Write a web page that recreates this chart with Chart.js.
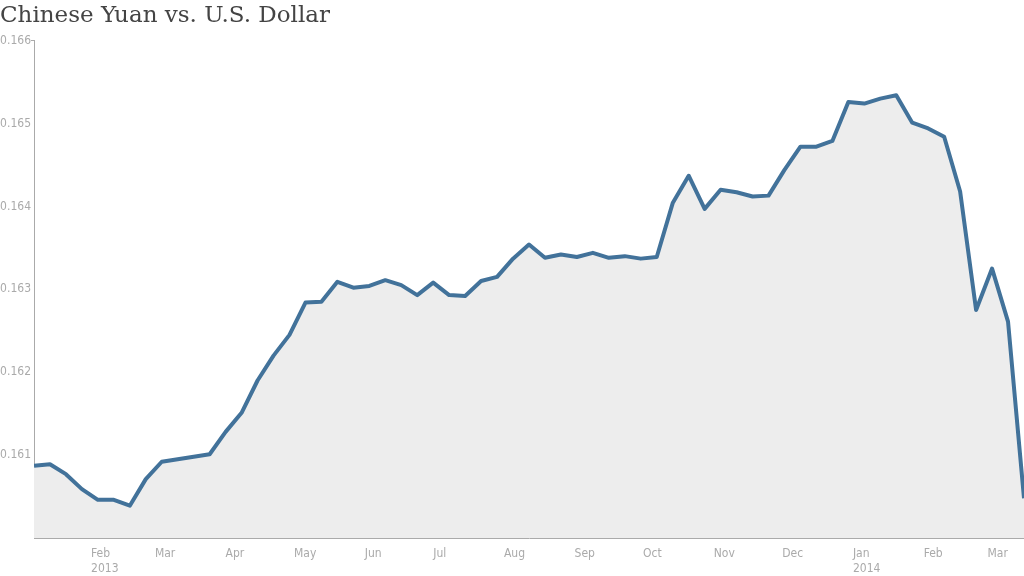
<!DOCTYPE html>
<html>
<head>
<meta charset="utf-8">
<script src="https://cdn.jsdelivr.net/npm/chart.js@4"></script>
<style>
  body { margin: 0; background: #fff; }
  #wrap { width: 1024px; height: 576px; }
</style>
</head>
<body>
<div id="wrap"><canvas id="yuanChart" width="1024" height="576"></canvas></div>
<script>
// weekly readings, yuan in dollars
const weeks = [
    '2013-01-07', '2013-01-14', '2013-01-21', '2013-01-28', '2013-02-04', '2013-02-11', '2013-02-18',
    '2013-02-25', '2013-03-04', '2013-03-11', '2013-03-18', '2013-03-25', '2013-04-01', '2013-04-08',
    '2013-04-15', '2013-04-22', '2013-04-29', '2013-05-06', '2013-05-13', '2013-05-20', '2013-05-27',
    '2013-06-03', '2013-06-10', '2013-06-17', '2013-06-24', '2013-07-01', '2013-07-08', '2013-07-15',
    '2013-07-22', '2013-07-29', '2013-08-05', '2013-08-12', '2013-08-19', '2013-08-26', '2013-09-02',
    '2013-09-09', '2013-09-16', '2013-09-23', '2013-09-30', '2013-10-07', '2013-10-14', '2013-10-21',
    '2013-10-28', '2013-11-04', '2013-11-11', '2013-11-18', '2013-11-25', '2013-12-02', '2013-12-09',
    '2013-12-16', '2013-12-23', '2013-12-30', '2014-01-06', '2014-01-13', '2014-01-20', '2014-01-27',
    '2014-02-03', '2014-02-10', '2014-02-17', '2014-02-24', '2014-03-03', '2014-03-10', '2014-03-17'
];

const yuanInUsd = [
    0.16087, 0.16089, 0.16077, 0.16059, 0.16046, 0.16046, 0.16039,
    0.16071, 0.16092, 0.16095, 0.16098, 0.16101, 0.16128, 0.16151,
    0.16190, 0.16220, 0.16245, 0.16284, 0.16285, 0.16309, 0.16302,
    0.16304, 0.16311, 0.16305, 0.16293, 0.16308, 0.16293, 0.16292,
    0.16310, 0.16315, 0.16337, 0.16354, 0.16338, 0.16342, 0.16339,
    0.16344, 0.16338, 0.16340, 0.16337, 0.16339, 0.16404, 0.16437,
    0.16397, 0.16420, 0.16417, 0.16412, 0.16413, 0.16444, 0.16472,
    0.16472, 0.16479, 0.16526, 0.16524, 0.16530, 0.16534, 0.16501,
    0.16494, 0.16484, 0.16418, 0.16275, 0.16325, 0.16261, 0.16048
];

const monthTicks = [
    '2013-02-01', '2013-03-01', '2013-04-01', '2013-05-01', '2013-06-01', '2013-07-01', '2013-08-01',
    '2013-09-01', '2013-10-01', '2013-11-01', '2013-12-01', '2014-01-01', '2014-02-01', '2014-03-01'
];
const monthLabels = [
    ['Feb', '2013'], 'Mar', 'Apr', 'May', 'Jun', 'Jul', 'Aug',
    'Sep', 'Oct', 'Nov', 'Dec', ['Jan', '2014'], 'Feb', 'Mar'
];

const yMin = 0.160;
const yMax = 0.166;

// days since the first reading
function dayOf(d) {
    return (Date.parse(d) - Date.parse(weeks[0])) / 86400000;
}

function points() {
    const pts = [];
    for (let i = 0; i < weeks.length; i++) {
        pts.push({ x: dayOf(weeks[i]), y: yuanInUsd[i] });
    }
    return pts;
}

// 'condensed' ends up as font-stretch in the canvas font string
const tickFont = { family: "'DejaVu Sans', sans-serif", size: 12, weight: 'condensed', lineHeight: 1.25 };

new Chart(document.getElementById('yuanChart'), {
    type: 'line',
    data: {
        datasets: [{
            data: points(),
            borderColor: '#42729a',
            borderWidth: 4,
            borderJoinStyle: 'round',
            backgroundColor: '#ededed',
            fill: 'start',
            pointRadius: 0,
            tension: 0
        }]
    },
    options: {
        responsive: false,
        animation: false,
        layout: { padding: 0 },
        plugins: {
            legend: { display: false },
            tooltip: { enabled: false },
            title: {
                display: true,
                text: 'Chinese Yuan vs. U.S. Dollar',
                align: 'start',
                color: '#444',
                font: { family: "'DejaVu Serif', serif", size: 23, weight: 'normal', lineHeight: 1.2 },
                padding: { top: 2, bottom: 11 }
            }
        },
        scales: {
            x: {
                type: 'linear',
                min: 0,
                max: dayOf(weeks[weeks.length - 1]),
                afterBuildTicks: function(scale) {
                    scale.ticks = monthTicks.map(d => ({ value: dayOf(d) }));
                },
                afterFit: function(scale) {
                    scale.height = 38;
                },
                grid: { display: false },
                border: { color: '#aaa', width: 1 },
                ticks: {
                    autoSkip: false,
                    maxRotation: 0,
                    align: 'start',
                    color: '#aaa',
                    font: tickFont,
                    padding: 0,
                    callback: function(value, index) {
                        return monthLabels[index];
                    }
                }
            },
            y: {
                min: yMin,
                max: yMax,
                afterFit: function(scale) {
                    scale.width = 34;
                },
                grid: {
                    drawOnChartArea: false,
                    drawTicks: true,
                    tickLength: 3,
                    color: ctx => (ctx.tick && Math.abs(ctx.tick.value - yMax) < 1e-9) ? '#aaa' : 'rgba(0,0,0,0)'
                },
                border: { color: '#aaa', width: 1 },
                ticks: {
                    stepSize: 0.001,
                    color: '#aaa',
                    font: tickFont,
                    padding: 0,
                    callback: function(value) {
                        if (Math.abs(value - yMin) < 1e-9) return '';
                        return value.toFixed(3);
                    }
                }
            }
        }
    }
});
</script>
</body>
</html>
